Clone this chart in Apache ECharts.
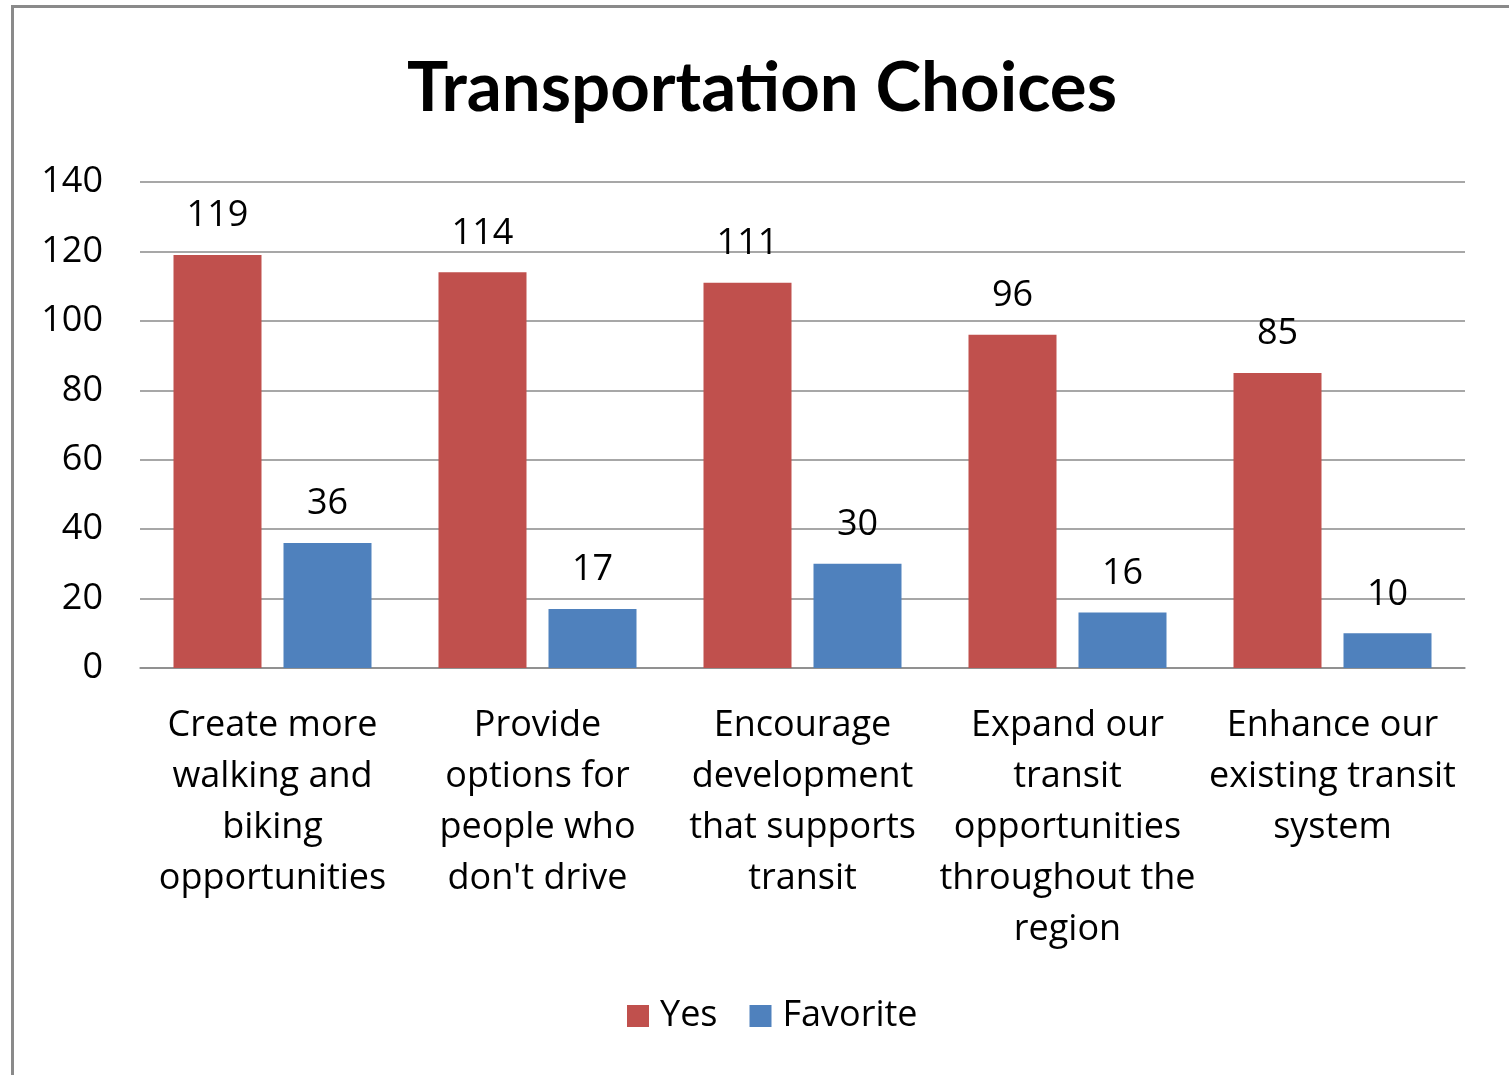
<!DOCTYPE html>
<html><head><meta charset="utf-8">
<script src="https://cdn.jsdelivr.net/npm/echarts@6/dist/echarts.min.js"></script>
<style>
html,body{margin:0;padding:0;background:#fff;overflow:hidden;}
#frame{position:absolute;left:11px;top:5px;width:1530px;height:1100px;border:3px solid #8a8a8a;box-sizing:border-box;}
#c{position:absolute;left:0;top:0;width:1509px;height:1075px;}
</style></head>
<body>
<div id="frame"></div>
<div id="c"></div>
<script>
const categories = [
  "Create more\nwalking and\nbiking\nopportunities",
  "Provide\noptions for\npeople who\ndon't drive",
  "Encourage\ndevelopment\nthat supports\ntransit",
  "Expand our\ntransit\nopportunities\nthroughout the\nregion",
  "Enhance our\nexisting transit\nsystem"
];
const yesValues = [119, 114, 111, 96, 85];
const favoriteValues = [36, 17, 30, 16, 10];
const yTicks = [0, 20, 40, 60, 80, 100, 120, 140];

const FONT = "Open Sans";
const chart = echarts.init(document.getElementById('c'), null, {renderer:'canvas'});
chart.setOption({
  animation:false,
  backgroundColor:'transparent',
  title:{
    text:'Transportation Choices', left:757, top:49, textAlign:'center',
    textStyle:{fontFamily:'Lato', fontWeight:'bold', fontSize:69, color:'#000'}
  },
  legend:{
    bottom:36, left:622, itemWidth:22, itemHeight:22, itemGap:32,
    icon:'rect',
    textStyle:{fontFamily:FONT, fontSize:36, color:'#000', padding:[0,0,0,6]},
    data:['Yes','Favorite']
  },
  grid:{left:140, right:44, top:182, bottom:407, containLabel:false},
  xAxis:{
    type:'category', data:categories,
    axisLine:{show:true, lineStyle:{color:'#8a8a8a', width:1.5}},
    axisTick:{show:false},
    axisLabel:{interval:0, fontFamily:FONT, fontSize:36, color:'#000', lineHeight:51, margin:32, verticalAlign:'top'}
  },
  yAxis:{
    type:'value', min:0, max:140, interval:20,
    axisLine:{show:false}, axisTick:{show:false},
    splitLine:{lineStyle:{color:'#8a8a8a', width:1.5}},
    axisLabel:{fontFamily:FONT, fontSize:36, color:'#000', margin:37,
      formatter: v => yTicks.includes(v) ? String(v) : ''}
  },
  series:[
    {name:'Yes', type:'bar', data:yesValues, barWidth:88, barGap:'25%',
     itemStyle:{color:'#C0504D'},
     label:{show:true, position:'top', distance:21, fontFamily:FONT, fontSize:36, color:'#000'}},
    {name:'Favorite', type:'bar', data:favoriteValues, barWidth:88,
     itemStyle:{color:'#4F81BD'},
     label:{show:true, position:'top', distance:21, fontFamily:FONT, fontSize:36, color:'#000'}}
  ]
});
</script>
</body></html>
